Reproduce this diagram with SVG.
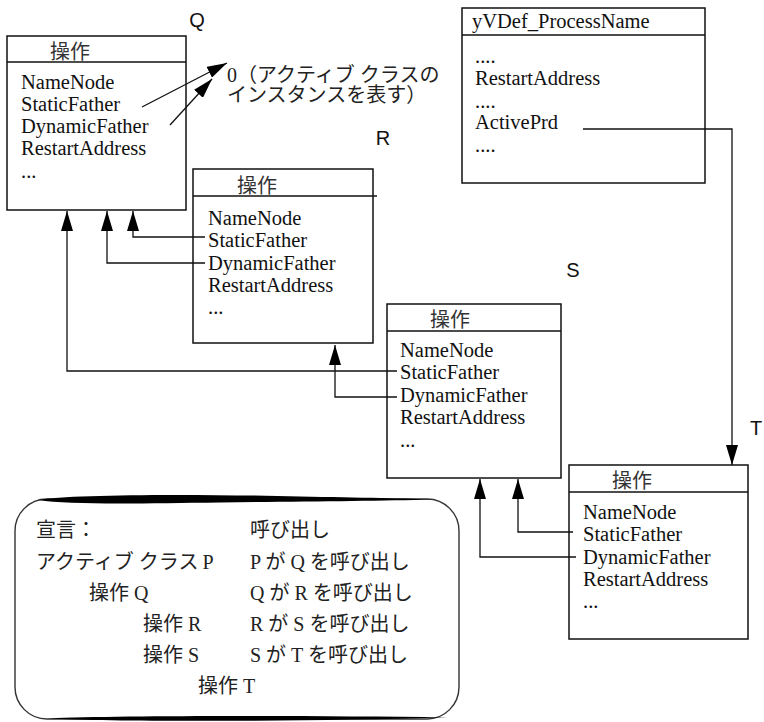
<svg xmlns="http://www.w3.org/2000/svg" width="764" height="722" viewBox="0 0 764 722">
  <style>
    .box { fill: #fff; stroke: #111; stroke-width: 1.5; }
    .sep { stroke: #111; stroke-width: 1.5; fill: none; }
    .t { font-family: "Liberation Serif", "Noto Sans CJK JP", serif; font-size: 20.5px; fill: #111; }
    .h { font-family: "Noto Sans CJK JP", sans-serif; font-size: 20px; fill: #333; }
    .j { font-family: "Liberation Serif", "Noto Sans CJK JP", serif; font-size: 20px; fill: #222; }
    .lbl { font-family: "Liberation Sans", Arial, sans-serif; font-size: 20px; fill: #111; text-anchor: middle; }
    .c { fill: none; stroke: #111; stroke-width: 1.3; marker-end: url(#ah); }
  </style>
  <defs>
    <marker id="ah" markerUnits="userSpaceOnUse" markerWidth="20" markerHeight="12" refX="20" refY="6" orient="auto">
      <path d="M0,0 L20,6 L0,12 Z" fill="#000"/>
    </marker>
  </defs>

  <rect width="764" height="722" fill="#fff"/>

  <!-- node labels -->
  <text class="lbl" x="197" y="27">Q</text>
  <text class="lbl" x="383" y="145">R</text>
  <text class="lbl" x="573" y="277">S</text>
  <text class="lbl" x="756" y="435">T</text>

  <!-- operation Q -->
  <g id="opQ">
    <rect class="box" x="7" y="36" width="179" height="174"/>
    <line class="sep" x1="7" y1="62" x2="186" y2="62"/>
    <text class="h" x="50" y="59">操作</text>
    <text class="t" x="21" y="89">NameNode</text>
    <text class="t" x="21" y="111">StaticFather</text>
    <text class="t" x="21" y="133">DynamicFather</text>
    <text class="t" x="21" y="155">RestartAddress</text>
    <text class="t" x="21" y="178">...</text>
  </g>

  <!-- note on the active class instance -->
  <g id="note">
    <text class="j" x="227" y="82">0（アクティブ クラスの</text>
    <text class="j" x="227" y="102">インスタンスを表す）</text>
  </g>

  <!-- process definition -->
  <g id="procDef">
    <rect class="box" x="462" y="8" width="243" height="175"/>
    <line class="sep" x1="462" y1="35" x2="705" y2="35"/>
    <text class="t" x="472" y="28">yVDef_ProcessName</text>
    <text class="t" x="475" y="63">....</text>
    <text class="t" x="475" y="85">RestartAddress</text>
    <text class="t" x="475" y="108">....</text>
    <text class="t" x="475" y="129">ActivePrd</text>
    <text class="t" x="475" y="152">....</text>
  </g>

  <!-- operation R -->
  <g id="opR">
    <rect class="box" x="193" y="169" width="180" height="174"/>
    <line class="sep" x1="193" y1="196" x2="377" y2="196"/>
    <text class="h" x="237" y="193">操作</text>
    <text class="t" x="208" y="225">NameNode</text>
    <text class="t" x="208" y="247">StaticFather</text>
    <text class="t" x="208" y="270">DynamicFather</text>
    <text class="t" x="208" y="292">RestartAddress</text>
    <text class="t" x="208" y="314">...</text>
  </g>

  <!-- operation S -->
  <g id="opS">
    <rect class="box" x="387" y="304" width="174" height="174"/>
    <line class="sep" x1="387" y1="331" x2="561" y2="331"/>
    <text class="h" x="430" y="327">操作</text>
    <text class="t" x="400" y="357">NameNode</text>
    <text class="t" x="400" y="379">StaticFather</text>
    <text class="t" x="400" y="402">DynamicFather</text>
    <text class="t" x="400" y="424">RestartAddress</text>
    <text class="t" x="400" y="447">...</text>
  </g>

  <!-- operation T -->
  <g id="opT">
    <rect class="box" x="569" y="465" width="179" height="174"/>
    <line class="sep" x1="569" y1="492" x2="748" y2="492"/>
    <text class="h" x="612" y="488">操作</text>
    <text class="t" x="583" y="519">NameNode</text>
    <text class="t" x="583" y="541">StaticFather</text>
    <text class="t" x="583" y="564">DynamicFather</text>
    <text class="t" x="583" y="586">RestartAddress</text>
    <text class="t" x="583" y="608">...</text>
  </g>

  <!-- father links -->
  <g id="connectors">
    <line class="c" x1="142" y1="107" x2="227" y2="63"/>
    <line class="c" x1="170" y1="125" x2="212" y2="79"/>
    <polyline class="c" points="205,237 133,237 133,211"/>
    <polyline class="c" points="205,263 107,263 107,211"/>
    <polyline class="c" points="397,371 67,371 67,211"/>
    <polyline class="c" points="397,397 335,397 335,345"/>
    <polyline class="c" points="573,532 518,532 518,479"/>
    <polyline class="c" points="576,557 480,557 480,479"/>
    <polyline class="c" points="583,129 732,129 732,465"/>
  </g>

  <!-- declaration / call legend: rounded frame with brush-like top and bottom strokes -->
  <g id="legend">
    <rect x="15" y="499" width="444" height="220" rx="32" ry="32" fill="none" stroke="#333" stroke-width="1.4"/>
    <path d="M38,500 C70,494 200,494 300,496.5 C360,497.5 410,498.5 432,499.5 C380,501 300,501.5 220,502.5 C140,503.5 70,505 38,500 Z" fill="#000"/>
    <path d="M48,718.5 C120,715.5 300,715.5 448,717.5 C300,721.5 120,722 48,718.5 Z" fill="#000"/>
    <text class="j" x="36" y="537">宣言：</text>
    <text class="j" x="250" y="537">呼び出し</text>
    <text class="j" x="36" y="569">アクティブ クラス<tspan dx="4">P</tspan></text>
    <text class="j" x="250" y="569">P が Q を呼び出し</text>
    <text class="j" x="89" y="600">操作 Q</text>
    <text class="j" x="250" y="600">Q が R を呼び出し</text>
    <text class="j" x="143" y="631">操作 R</text>
    <text class="j" x="250" y="631">R が S を呼び出し</text>
    <text class="j" x="143" y="662">操作 S</text>
    <text class="j" x="250" y="662">S が T を呼び出し</text>
    <text class="j" x="198" y="693">操作 T</text>
  </g>
</svg>
